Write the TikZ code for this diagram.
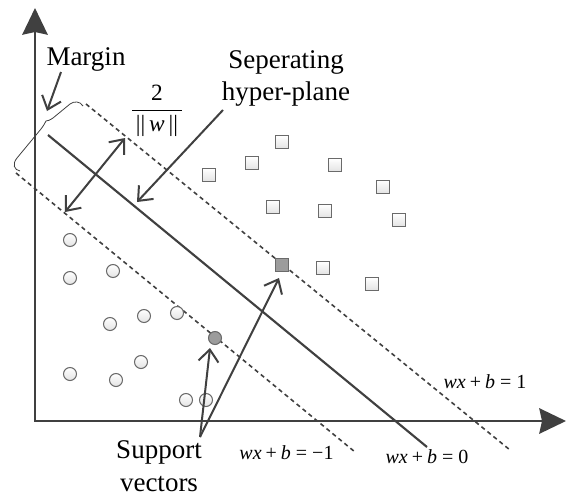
\documentclass[tikz,border=0pt]{standalone}
\usepackage{fontspec}
\setmainfont{Liberation Serif}
\usetikzlibrary{arrows.meta}
\definecolor{linegray}{HTML}{404040}
\definecolor{ptgray}{HTML}{6A6A6A}
\definecolor{svfill}{HTML}{9C9C9C}
\newcommand{\eqlab}[1]{\textit{wx}\hspace{0.2em}+\hspace{0.2em}\textit{b}\hspace{0.25em}=\hspace{0.25em}#1}
\begin{document}
\begin{tikzpicture}[x=0.75pt,y=-0.75pt,
  axis/.style={draw=linegray, line width=2pt, line join=miter,
    {Stealth[length=20pt,width=19pt,inset=2pt]}-{Stealth[length=20pt,width=19pt,inset=2pt]}},
  hyper/.style={draw=linegray, line width=1.6pt},
  marginline/.style={draw=linegray, line width=1.2pt, dash pattern=on 3.2pt off 2.6pt},
  barrow/.style={draw=linegray, line width=1.5pt, -{Straight Barb[length=9pt,width=15pt]}},
  circpt/.style={circle, draw=ptgray, line width=0.8pt, top color=white, bottom color=gray!22,
    minimum size=9.75pt, inner sep=0pt},
  sqpt/.style={rectangle, draw=ptgray, line width=0.8pt, top color=white, bottom color=gray!22,
    minimum size=9.75pt, inner sep=0pt},
  svcirc/.style={circpt, fill=svfill, top color=svfill, bottom color=svfill},
  svsq/.style={sqpt, fill=svfill, top color=svfill, bottom color=svfill},
  lbl/.style={inner sep=0pt, font=\fontsize{20.25pt}{24.5pt}\selectfont},
  eq/.style={inner sep=0pt, font=\fontsize{15pt}{18pt}\selectfont},
  bracepath/.style={draw=linegray, line width=0.6pt}
]
\useasboundingbox (0,0) rectangle (566,500);

% axes
\coordinate (O) at (35,421);
\coordinate (ytip) at (35,8);
\coordinate (xtip) at (566,421);
\draw[axis] (ytip) -- (O) -- (xtip);

% hyperplanes
\coordinate (h0a) at (48,135);
\coordinate (h0b) at (427,447);
\coordinate (h1a) at (86,104);
\coordinate (h1b) at (510,450);
\coordinate (hm1a) at (16,173);
\coordinate (hm1b) at (355,452);
\draw[hyper] (h0a) -- (h0b);
\draw[marginline] (h1a) -- (h1b);
\draw[marginline] (hm1a) -- (hm1b);

% circles (class -1)
\node[circpt] (c1) at (70,240) {};
\node[circpt] (c2) at (70,278) {};
\node[circpt] (c3) at (113,271) {};
\node[circpt] (c4) at (110,324) {};
\node[circpt] (c5) at (144,316) {};
\node[circpt] (c6) at (177,313) {};
\node[circpt] (c7) at (141,362) {};
\node[circpt] (c8) at (70,374) {};
\node[circpt] (c9) at (116,380) {};
\node[circpt] (c10) at (186,400) {};
\node[circpt] (c11) at (206,400) {};
\node[svcirc] (svc) at (215,338) {};

% squares (class +1)
\node[sqpt] (s1) at (209,175) {};
\node[sqpt] (s2) at (252,163) {};
\node[sqpt] (s3) at (282,142) {};
\node[sqpt] (s4) at (335,165) {};
\node[sqpt] (s5) at (383,187) {};
\node[sqpt] (s6) at (273,207) {};
\node[sqpt] (s7) at (325,211) {};
\node[sqpt] (s8) at (399,220) {};
\node[sqpt] (s9) at (323,268) {};
\node[sqpt] (s10) at (372,284) {};
\node[svsq] (svs) at (282,265) {};

% brace
\draw[bracepath] (20,171) .. controls (14,170) and (12,164) .. (17,158)
  -- (41,129) .. controls (44,125) and (45,123) .. (46,121)
  .. controls (48,121) and (50,120) .. (53,118)
  -- (70,104) .. controls (74,101) and (80,101) .. (83,106);

% labels
\node[lbl, anchor=base] (margin) at (86,65) {Margin};
\node[lbl, align=center] (sep) at (286,78.5) {Seperating\\hyper-plane};
\node[lbl, align=center] (sv) at (159,466) {Support\\vectors};
\node[anchor=base, inner sep=0pt, font=\fontsize{17.5pt}{20pt}\selectfont] (frac) at (157,116)
  {$\displaystyle{\mbox{2}\above 0.9pt\mbox{\,||\,\textit{w}\,||\,}}$};
\node[eq, anchor=base] (eq1) at (485,388) {\eqlab{1}};
\node[eq, anchor=base] (eq0) at (427,463) {\eqlab{0}};
\node[eq, anchor=base] (eqm1) at (286.5,459) {\eqlab{−1}};

% arrows
\coordinate (mstart) at (61,72);
\coordinate (mtip) at (47,111);
\draw[barrow] (mstart) -- (mtip);
\coordinate (sepstart) at (223,110);
\coordinate (septip) at (137,202);
\draw[barrow] (sepstart) -- (septip);
\coordinate (ma) at (65,212);
\coordinate (mb) at (125,138);
\draw[barrow, {Straight Barb[length=9pt,width=15pt]}-{Straight Barb[length=9pt,width=15pt]}] (ma) -- (mb);
\coordinate (svstart) at (200,437);
\coordinate (sv1tip) at (210,348);
\coordinate (sv2tip) at (279,278);
\draw[barrow] (svstart) -- (sv1tip);
\draw[barrow] (svstart) -- (sv2tip);
\end{tikzpicture}
\end{document}
